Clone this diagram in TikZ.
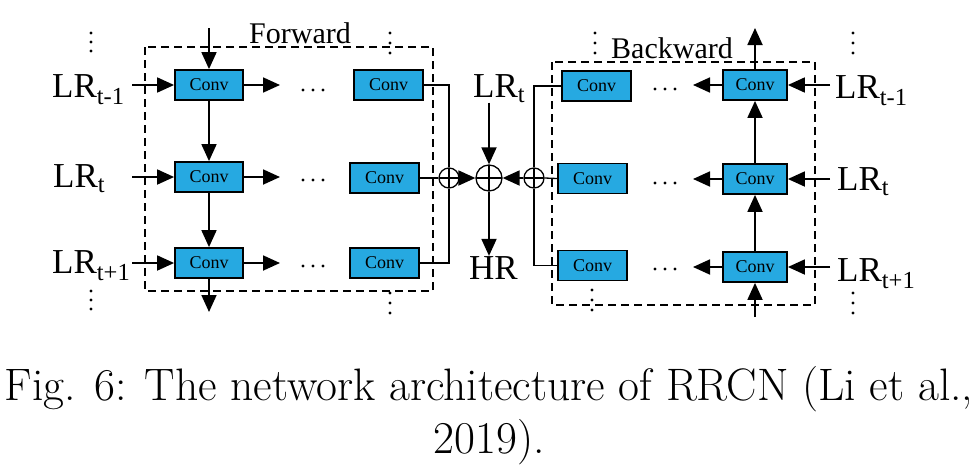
\documentclass[tikz,border=0pt]{standalone}
\usepackage{fontspec}
\usepackage{tikz}
\usetikzlibrary{arrows.meta}
\newfontfamily\figfont{Liberation Serif}
\definecolor{convblue}{RGB}{38,169,225}
\tikzset{
    convbox/.style={
        draw, line width=1.8pt, fill=convblue,
        minimum width=#1, minimum height=30pt, inner sep=0pt,
        font=\figfont\fontsize{18}{18}\selectfont
    },
    convbox/.default=69pt,
    arr/.style={-{Triangle[length=17pt,width=15pt]}, line width=1.8pt},
    link/.style={line width=1.3pt},
    group/.style={dash pattern=on 8pt off 5pt, line width=1.5pt},
    sum/.style={
        circle, draw, line width=1.3pt, minimum size=#1, inner sep=0pt,
        path picture={
            \draw[line width=1.3pt] (path picture bounding box.north) -- (path picture bounding box.south)
                (path picture bounding box.west) -- (path picture bounding box.east);
        }
    },
    sum/.default=20pt,
    lr/.style={anchor=base west, inner sep=0pt, font=\figfont\fontsize{35}{35}\selectfont},
    title/.style={anchor=base, inner sep=0pt, font=\figfont\fontsize{30}{30}\selectfont},
    caption/.style={anchor=base, inner sep=0pt, font=\fontsize{45.5}{45.5}\selectfont}
}
% Conv box: name, x, y, width
\newcommand{\conv}[4] {
	\node[convbox=#4] (#1) at (#2,#3) {Conv};
}
% three dots: x, y, dx, dy
\newcommand{\dotsat}[4] {
	\foreach \k in {-1,0,1}
		\fill (#1+\k*#3,#2+\k*#4) circle [radius=1.7pt];
}

\begin{document}
\begin{tikzpicture}[x=1pt,y=-1pt]
		\useasboundingbox (0,0) rectangle (979,472);

		% Forward
		\draw[group] (145,47) rectangle (433,291);
		\node[title] (fwd) at (300,43) {Forward};

		\conv{f11}{209}{85}{68}
		\conv{f21}{209}{177}{68}
		\conv{f31}{209}{263}{68}
		\conv{f12}{388.5}{85}{69}
		\conv{f22}{384.5}{178}{69}
		\conv{f32}{384.5}{263}{69}

		\node[lr] (lrf1) at (52,97) {LR\textsubscript{t-1}};
		\node[lr] (lrf2) at (53,187) {LR\textsubscript{t}};
		\node[lr] (lrf3) at (52,273) {LR\textsubscript{t+1}};

		\foreach \r/\y in {1/85,2/177,3/263} {
			\coordinate (fin\r) at (132,\y);
			\coordinate (fdot\r) at (280,\y);
			\draw[arr] (fin\r) -- (f\r1);
			\draw[arr] (f\r1) -- (fdot\r);
		}
		\dotsat{313}{90}{10}{0}
		\dotsat{313}{180}{10}{0}
		\dotsat{313}{266}{10}{0}

		\coordinate (ftop) at (209,28);
		\coordinate (fbot) at (209,312);
		\draw[arr] (ftop) -- (f11);
		\draw[arr] (f11) -- (f21);
		\draw[arr] (f21) -- (f31);
		\draw[arr] (f31) -- (fbot);

		\dotsat{91}{42}{0}{9}
		\dotsat{91}{300}{0}{9}
		\dotsat{390}{43}{0}{10}
		\dotsat{390}{303}{0}{10}

		% merge
		\node[sum] (cf) at (449,178) {};
		\node[sum=26pt] (add) at (489,178) {};
		\node[sum] (cb) at (534,178) {};

		\draw[link] (f12.east) -| (cf.north);
		\draw[link] (f32.east) -| (cf.south);
		\draw[link] (f22.east) -- (cf.west);
		\draw[arr] (cf.east) -- (add.west);
		\draw[arr] (cb.west) -- (add.east);

		\node[lr] (lrt) at (473,97) {LR\textsubscript{t}};
		\node[lr] (hr) at (469,279) {HR};
		\draw[arr] (lrt.south -| add) -- (add.north);
		\draw[arr] (add.south) -- (hr.north -| add);

		% Backward
		\draw[group] (552,62) rectangle (815,305);
		\node[title] (bwd) at (672,58) {Backward};

		\conv{b11}{596.5}{86}{69}
		\conv{b21}{592.5}{178.5}{69}
		\conv{b31}{592.5}{265.5}{69}
		\conv{b12}{755}{85}{64}
		\conv{b22}{755}{179}{64}
		\conv{b32}{755}{267}{64}

		\draw[link] (b11.west) -| (cb.north);
		\draw[link] (b31.west) -| (cb.south);
		\draw[link] (b21.west) -- (cb.east);

		\node[lr] (lrb1) at (835,98) {LR\textsubscript{t-1}};
		\node[lr] (lrb2) at (837,190) {LR\textsubscript{t}};
		\node[lr] (lrb3) at (837,281) {LR\textsubscript{t+1}};

		\foreach \r/\y in {1/85,2/179,3/267} {
			\coordinate (bin\r) at (830,\y);
			\coordinate (bdot\r) at (693,\y);
			\draw[arr] (bin\r) -- (b\r2);
			\draw[arr] (b\r2) -- (bdot\r);
		}
		\dotsat{665}{89}{10}{0}
		\dotsat{665}{183}{10}{0}
		\dotsat{665}{269}{10}{0}

		\coordinate (btop) at (755,28);
		\coordinate (bbot) at (755,317);
		\draw[arr] (bbot) -- (b32);
		\draw[arr] (b32) -- (b22);
		\draw[arr] (b22) -- (b12);
		\draw[arr] (b12) -- (btop);

		\dotsat{595}{43}{0}{10}
		\dotsat{592}{300}{0}{10}
		\dotsat{853}{43}{0}{10}
		\dotsat{853}{303}{0}{10}

		% caption
		\node[caption] (cap1) at (489,400) {Fig. 6: The network architecture of RRCN (Li et al.,};
		\node[caption] (cap2) at (489,453) {2019).};
	\end{tikzpicture}
\end{document}
